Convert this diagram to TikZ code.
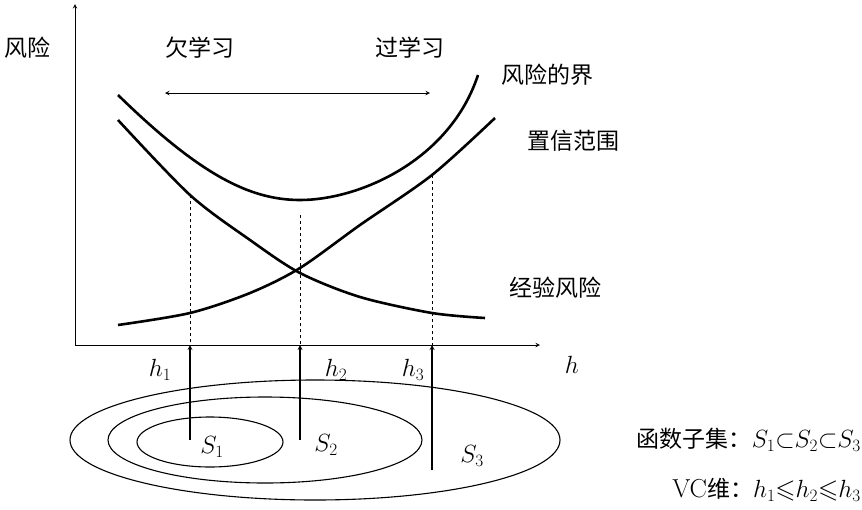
\documentclass[tikz,border=0pt]{standalone}
\usepackage{amssymb}
\usepackage{fontspec}
\newfontfamily\cjk{Noto Sans CJK SC}
\begin{document}
\begin{tikzpicture}[x=1pt,y=-1pt,
  curve/.style={line width=2.6pt},
  lbl/.style={font=\cjk\fontsize{23}{25}\selectfont},
  mlbl/.style={font=\fontsize{26}{28}\selectfont},
  ax/.style={line width=1pt,-stealth},
  dsh/.style={dashed,line width=0.9pt},
  up/.style={line width=1.2pt,-stealth}]
\useasboundingbox (0,0) rectangle (862,509);
% axes
\coordinate (O) at (75,345);
\coordinate (Ytop) at (75,4);
\coordinate (Xend) at (540,345);
\draw[ax] (O) -- (Ytop);
\draw[ax] (O) -- (Xend);
\node[lbl] (risk) at (28,48) {风险};
\node[lbl] (under) at (200,48) {欠学习};
\node[lbl] (over) at (410,48) {过学习};
\coordinate (aL) at (165,93); \coordinate (aR) at (430,93);
\draw[line width=1pt,stealth-stealth] (aL) -- (aR);
% curves
\draw[curve] (118,95) .. controls (200,175) and (250,200) .. (300,200)
  .. controls (360,200) and (450,160) .. (478,75);
\draw[curve] plot[smooth] coordinates {(118,325) (190,313) (250,293) (300,268) (360,225) (432,175) (495,118)};
\draw[curve] plot[smooth] coordinates {(118,120) (190,195) (250,240) (300,273) (360,297) (432,313) (485,318)};
\node[lbl] (bound) at (547,75) {风险的界};
\node[lbl] (conf) at (573,141) {置信范围};
\node[lbl] (emp) at (555,288) {经验风险};
% dashed
\coordinate (d1) at (190,195); \coordinate (d2) at (300,215); \coordinate (d3) at (432,175);
\coordinate (a1) at (190,345); \coordinate (a2) at (300,345); \coordinate (a3) at (432,345);
\draw[dsh] (d1) -- (a1); \draw[dsh] (d2) -- (a2); \draw[dsh] (d3) -- (a3);
\coordinate (b1) at (190,440); \coordinate (b2) at (300,440); \coordinate (b3) at (432,470);
\draw[up] (b1) -- (a1); \draw[up] (b2) -- (a2); \draw[up] (b3) -- (a3);
\node[mlbl] (h1) at (160,370) {$h_1$};
\node[mlbl] (h2) at (336,370) {$h_2$};
\node[mlbl] (h3) at (413,370) {$h_3$};
\node[mlbl] (h) at (572,365) {$h$};
% ellipses
\draw[line width=1.1pt] (315,440) ellipse [x radius=245, y radius=60];
\draw[line width=1.1pt] (265,440) ellipse [x radius=157, y radius=43];
\draw[line width=1.1pt] (210,442) ellipse [x radius=73, y radius=25];
\node[mlbl] (S1) at (212,447) {$S_1$};
\node[mlbl] (S2) at (326,445) {$S_2$};
\node[mlbl] (S3) at (472,456) {$S_3$};
\node[lbl,anchor=east,inner sep=1pt] (fs) at (862,440) {函数子集：\fontsize{26}{28}\selectfont$S_1{\subset} S_2{\subset} S_3$};
\node[lbl,anchor=east,inner sep=1pt] (vc) at (862,490) {\fontsize{26}{28}\selectfont\rmfamily VC\cjk\fontsize{23}{25}\selectfont 维：\fontsize{26}{28}\selectfont$h_1{\leqslant} h_2{\leqslant} h_3$};
\end{tikzpicture}
\end{document}
